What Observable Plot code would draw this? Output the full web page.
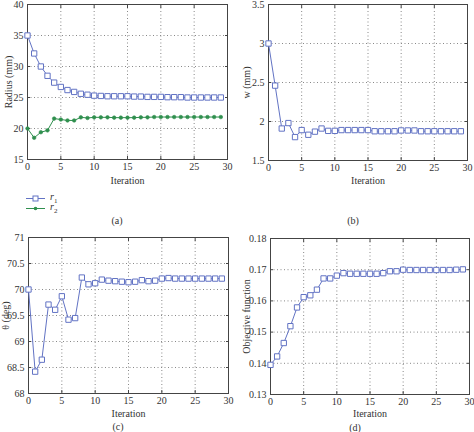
<!DOCTYPE html>
<html>
<head>
<meta charset="utf-8">
<script src="https://cdn.jsdelivr.net/npm/d3@7"></script>
<script src="https://cdn.jsdelivr.net/npm/@observablehq/plot@0.6"></script>
<style>
  body { margin: 0; background: #fff; }
  #root { position: relative; width: 474px; height: 432px; overflow: hidden; font-family: "Liberation Serif", serif; color: #333; }
  .panel { position: absolute; }
  .panel text { font-family: "Liberation Serif", serif; font-weight: normal; }
  .cap { position: absolute; font-size: 10px; transform: translate(-50%, -50%); }
  .leg { position: absolute; font-size: 10px; display: flex; align-items: center; }
</style>
</head>
<body>
<div id="root"></div>
<script>
const iterations = d3.range(0, 30);
const radiusR1 = [35.0,32.1,30.0,28.5,27.4,26.7,26.2,25.9,25.6,25.45,25.3,25.25,25.2,25.2,25.2,25.2,25.15,25.15,25.1,25.1,25.1,25.05,25.05,25.05,25.0,25.0,25.0,25.0,25.0,25.0];
const radiusR2 = [20.0,18.5,19.4,19.7,21.6,21.45,21.3,21.3,21.8,21.7,21.8,21.8,21.8,21.75,21.75,21.75,21.75,21.8,21.8,21.85,21.85,21.85,21.85,21.85,21.85,21.85,21.85,21.85,21.85,21.85];
const widthW = [3.0,2.46,1.91,1.98,1.80,1.89,1.83,1.87,1.91,1.88,1.88,1.89,1.89,1.89,1.89,1.89,1.875,1.875,1.875,1.875,1.885,1.885,1.885,1.875,1.875,1.875,1.875,1.875,1.875,1.875];
const thetaDeg = [70.0,68.42,68.65,69.71,69.61,69.87,69.42,69.45,70.23,70.10,70.12,70.19,70.17,70.16,70.15,70.14,70.15,70.18,70.16,70.17,70.21,70.22,70.21,70.21,70.21,70.21,70.21,70.21,70.21,70.21];
const objective = [0.1395,0.1422,0.1465,0.1519,0.1579,0.1612,0.1618,0.1636,0.1672,0.1672,0.1681,0.1689,0.1687,0.1687,0.1687,0.1687,0.1687,0.1689,0.1695,0.1695,0.1700,0.1699,0.1699,0.1699,0.1699,0.1699,0.1699,0.1699,0.1700,0.1701];

const xTicks = [0, 5, 10, 15, 20, 25, 30];
const BLUE = "#6273c4";
const GREEN = "#2f8f4e";
const fmt = d => String(+d.toFixed(4));
const blank = () => "";

const root = document.getElementById("root");

function panel({left, top, ml, mr, mt, plotH, mb, yDomain, yTicks, yLabel, yOff, xOff, series}) {
  const marks = [
    Plot.gridX(xTicks, {stroke: "#888", strokeOpacity: 1, strokeDasharray: "1,2.5"}),
    Plot.gridY(yTicks, {stroke: "#888", strokeOpacity: 1, strokeDasharray: "1,2.5"}),
    Plot.axisX(xTicks, {anchor: "bottom", tickSize: -3, tickPadding: 6, tickFormat: fmt, label: null, stroke: "#444"}),
    Plot.axisX(xTicks, {anchor: "top", tickSize: -3, tickPadding: 0, tickFormat: blank, label: null, stroke: "#444"}),
    Plot.axisY(yTicks, {anchor: "left", tickSize: -3, tickPadding: 7, tickFormat: fmt, label: null, stroke: "#444"}),
    Plot.axisY(yTicks, {anchor: "right", tickSize: -3, tickPadding: 0, tickFormat: blank, label: null, stroke: "#444"}),
    Plot.text(["Iteration"], {text: d => d, frameAnchor: "bottom", lineAnchor: "middle", textAnchor: "middle", dy: xOff, fill: "#333"}),
    Plot.text([yLabel], {text: d => d, frameAnchor: "left", lineAnchor: "middle", textAnchor: "middle", dx: -yOff, rotate: -90, fill: "#333"}),
    Plot.frame({stroke: "#444", strokeWidth: 1})
  ];
  for (const s of series) {
    const data = iterations.map((i, k) => ({x: i, y: s.values[k]}));
    marks.push(Plot.line(data, {x: "x", y: "y", stroke: s.color, strokeWidth: 1}));
    if (s.square) marks.push(Plot.dot(data, {x: "x", y: "y", symbol: "square", r: 3, stroke: s.color, fill: "white", strokeWidth: 1}));
    else marks.push(Plot.dot(data, {x: "x", y: "y", r: 1.8, fill: s.color, stroke: s.color, strokeWidth: 0.6}));
  }
  const chart = Plot.plot({
    width: 237, height: mt + plotH + mb,
    marginLeft: ml, marginRight: mr, marginTop: mt, marginBottom: mb,
    style: {fontFamily: '"Liberation Serif", serif', fontSize: "10px", color: "#333", overflow: "visible", background: "transparent"},
    x: {domain: [0, 30]},
    y: {domain: yDomain},
    marks
  });
  chart.classList.add("panel");
  chart.style.left = left + "px";
  chart.style.top = top + "px";
  root.appendChild(chart);
}

panel({left: 0, top: 0, ml: 27, mr: 10, mt: 4, plotH: 155, mb: 32, yDomain: [15, 40], yTicks: [15, 20, 25, 30, 35, 40], yLabel: "Radius (mm)", yOff: 19, xOff: 21,
  series: [{values: radiusR1, color: BLUE, square: true}, {values: radiusR2, color: GREEN, square: false}]});
panel({left: 237, top: 0, ml: 31, mr: 7, mt: 4, plotH: 156, mb: 32, yDomain: [1.5, 3.5], yTicks: [1.5, 2, 2.5, 3, 3.5], yLabel: "w (mm)", yOff: 22, xOff: 20,
  series: [{values: widthW, color: BLUE, square: true}]});
panel({left: 0, top: 216, ml: 28, mr: 9, mt: 21, plotH: 156, mb: 28, yDomain: [68, 71], yTicks: [68, 68.5, 69, 69.5, 70, 70.5, 71], yLabel: "θ (deg)", yOff: 23, xOff: 20,
  series: [{values: thetaDeg, color: BLUE, square: true}]});
panel({left: 237, top: 216, ml: 33, mr: 5, mt: 22, plotH: 156, mb: 28, yDomain: [0.13, 0.18], yTicks: [0.13, 0.14, 0.15, 0.16, 0.17, 0.18], yLabel: "Objective function", yOff: 24, xOff: 19,
  series: [{values: objective, color: BLUE, square: true}]});

// captions
const caps = [["(a)", 117, 220], ["(b)", 353, 220], ["(c)", 118, 426], ["(d)", 355, 427]];
for (const [t, x, y] of caps) {
  const d = document.createElement("div");
  d.className = "cap"; d.textContent = t;
  d.style.left = x + "px"; d.style.top = y + "px";
  root.appendChild(d);
}

// legend
const legendItems = [["1", BLUE, true, 197], ["2", GREEN, false, 207]];
for (const [sub, color, sq, y] of legendItems) {
  const d = document.createElement("div");
  d.className = "leg";
  d.style.left = "26px"; d.style.top = (y - 6) + "px";
  const marker = sq
    ? `<rect x="7" y="3" width="5" height="5" fill="white" stroke="${color}"/>`
    : `<circle cx="9.5" cy="5.5" r="1.8" fill="${color}"/>`;
  d.innerHTML = `<svg width="20" height="11"><line x1="0" x2="19" y1="5.5" y2="5.5" stroke="${color}"/>${marker}</svg><span style="margin-left:4px;font-style:italic">r<sub style="font-style:normal;font-size:7px">${sub}</sub></span>`;
  root.appendChild(d);
}
</script>
</body>
</html>
